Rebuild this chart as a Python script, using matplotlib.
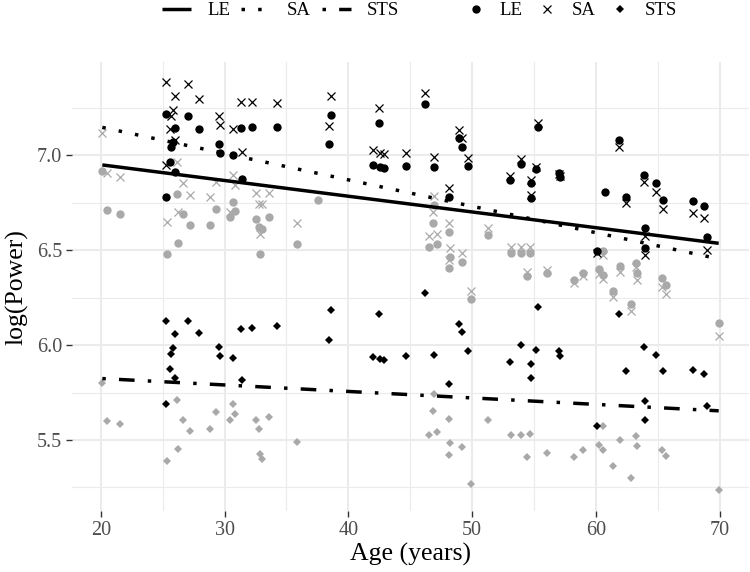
import numpy as np
import matplotlib
matplotlib.use("Agg")
import matplotlib.pyplot as plt
from matplotlib.lines import Line2D

plt.rcParams['font.family'] = ['Liberation Serif', 'DejaVu Serif']

# group drawn in black: age, LE, SA, STS (log power)
age_black = [25.27, 25.27, 25.62, 25.70, 25.84, 26.00, 26.00, 27.03, 27.92, 29.53,
             29.66, 30.69, 31.34, 31.39, 32.22, 34.24, 38.42, 38.64, 42.02, 42.50,
             42.60, 42.90, 44.68, 46.18, 46.96, 48.12, 48.93, 49.18, 49.67, 53.10,
             53.93, 54.73, 54.76, 55.14, 55.35, 57.00, 57.13, 60.06, 60.76, 61.89,
             62.46, 63.91, 63.94, 63.94, 64.82, 65.40, 67.82, 68.73, 68.95]
le_black = [7.217, 6.782, 6.964, 7.043, 7.073, 7.146, 6.915, 7.210, 7.141, 7.062,
            7.013, 7.001, 7.146, 6.878, 7.152, 7.152, 7.061, 7.213, 6.950, 7.173,
            6.938, 6.933, 6.947, 7.271, 6.941, 6.783, 7.094, 7.046, 6.947, 6.869,
            6.957, 6.853, 6.778, 6.931, 7.152, 6.910, 6.888, 6.494, 6.806, 7.082,
            6.780, 6.899, 6.617, 6.512, 6.853, 6.764, 6.759, 6.734, 6.569]
sa_black = [7.389, 6.950, 7.138, 7.208, 7.239, 7.313, 7.082, 7.375, 7.296, 7.208,
            7.161, 7.138, 7.283, 7.020, 7.283, 7.275, 7.157, 7.313, 7.029, 7.250,
            7.015, 7.008, 7.011, 7.331, 6.990, 6.827, 7.134, 7.090, 6.985, 6.891,
            6.980, 6.871, 6.792, 6.941, 7.169, 6.900, 6.890, 6.485, np.nan, 7.046,
            6.752, 6.859, 6.573, 6.476, 6.810, 6.717, 6.699, 6.669, 6.503]
sts_black = [6.129, 5.688, 5.875, 5.954, 5.983, 6.061, 5.827, 6.129, 6.064, 5.990,
             5.941, 5.934, 6.085, 5.818, 6.090, 6.101, 6.029, 6.187, 5.936, 6.162,
             5.927, 5.924, 5.945, 6.276, 5.946, 5.797, 6.112, 6.067, 5.969, 5.909,
             5.999, 5.899, 5.827, 5.976, 6.201, 5.967, 5.945, 5.575, np.nan, 6.164,
             5.866, 5.988, 5.704, 5.603, 5.948, 5.862, 5.869, 5.848, 5.682]

# group drawn in grey
age_grey = [20.13, 20.48, 21.56, 25.36, 26.19, 26.24, 26.66, 27.21, 28.80, 29.35,
            30.69, 30.88, 30.48, 32.55, 32.79, 32.90, 33.03, 33.62, 35.83, 37.53,
            46.55, 46.81, 46.92, 47.14, 48.10, 48.24, 48.16, 49.18, 49.93, 51.26,
            53.14, 53.93, 54.68, 54.44, 56.05, 58.23, 58.93, 60.22, 60.57, 60.57,
            61.36, 61.95, 62.81, 63.24, 63.29, 65.36, 65.63, 69.92]
le_grey = [6.918, 6.712, 6.694, 6.480, 6.799, 6.541, 6.692, 6.634, 6.631, 6.717,
           6.757, 6.708, 6.678, 6.666, 6.622, 6.480, 6.610, 6.675, 6.533, 6.766,
           6.517, 6.646, 6.739, 6.534, 6.599, 6.467, 6.406, 6.441, 6.243, 6.582,
           6.485, 6.485, 6.485, 6.366, 6.380, 6.345, 6.383, 6.403, 6.494, 6.371,
           6.283, 6.418, 6.218, 6.433, 6.383, 6.354, 6.315, 6.117]
sa_grey = [7.117, 6.906, 6.885, 6.648, 6.968, 6.704, 6.854, 6.792, 6.783, 6.862,
           6.897, 6.845, 6.700, 6.801, 6.745, 6.587, 6.745, 6.801, 6.646, np.nan,
           6.573, 6.700, 6.788, 6.585, 6.646, 6.512, 6.450, 6.485, 6.283, 6.617,
           6.515, 6.515, 6.515, 6.388, 6.397, 6.327, 6.366, 6.376, 6.476, 6.348,
           6.254, 6.388, 6.178, 6.410, 6.345, 6.306, 6.270, 6.046]
sts_grey = [5.801, 5.599, 5.585, 5.388, 5.713, 5.454, 5.606, 5.548, 5.557, 5.646,
            5.690, 5.638, 5.608, 5.608, 5.560, 5.427, 5.401, 5.622, 5.492, np.nan,
            5.525, 5.655, 5.743, 5.543, 5.613, 5.483, 5.422, 5.462, 5.266, 5.608,
            5.525, 5.529, 5.533, 5.409, 5.430, 5.409, 5.448, 5.476, 5.573, 5.448,
            5.362, 5.499, 5.301, 5.520, 5.471, 5.450, 5.415, 5.234]

# fitted lines (end points)
fit_age = [20.13, 69.92]
fit_le = [6.950, 6.537]
fit_sa = [7.148, 6.455]
fit_sts = [5.824, 5.654]

GREY = '#a9a9a9'
GRID = '#ebebeb'
TXT = '#4d4d4d'
LW = 2.5
SA_DASH = (0, (1.0, 3.8))
STS_DASH = (0, (1.0, 3.8, 4.5, 3.8))

fig = plt.figure(figsize=(7.5, 5.72), dpi=100)
ax = fig.add_axes([0.096, 0.106, 0.9027, 0.7854])

for col, age, le, sa, sts in [(GREY, age_grey, le_grey, sa_grey, sts_grey),
                              ('black', age_black, le_black, sa_black, sts_black)]:
    ax.plot(age, sa, linestyle='none', marker='x', ms=6.0, mew=0.9, color=col, zorder=3)
    ax.plot(age, le, linestyle='none', marker='o', ms=6.0, mew=0, color=col, zorder=4)
    ax.plot(age, sts, linestyle='none', marker='D', ms=3.7, mew=0, color=col, zorder=4)

ax.plot(fit_age, fit_le, color='black', lw=LW, solid_capstyle='butt', zorder=5)
ax.plot(fit_age, fit_sa, color='black', lw=LW, linestyle=SA_DASH, dash_capstyle='butt', zorder=5)
ax.plot(fit_age, fit_sts, color='black', lw=LW, linestyle=STS_DASH, dash_capstyle='butt', zorder=5)

ax.set_xlim(17.68, 72.37)
ax.set_ylim(5.124, 7.492)
ax.set_xticks([20, 30, 40, 50, 60, 70])
ax.set_xticks([25, 35, 45, 55, 65], minor=True)
ax.set_yticks([5.5, 6.0, 6.5, 7.0])
ax.set_yticks([5.25, 5.75, 6.25, 6.75, 7.25], minor=True)
ax.set_yticklabels(['5.5', '6.0', '6.5', '7.0'])
ax.grid(True, which='major', color=GRID, lw=1.5)
ax.grid(True, which='minor', color=GRID, lw=0.8)
ax.set_axisbelow(True)
for s in ax.spines.values():
    s.set_visible(False)
ax.tick_params(which='major', length=4, width=1.0, color='#333333',
               labelsize=14.5, labelcolor=TXT, pad=3)
ax.tick_params(which='minor', length=0)
ax.set_xlabel('Age (years)', fontsize=18.5, labelpad=2)
ax.set_ylabel('log(Power)', fontsize=18.5, labelpad=6)

line_handles = [Line2D([], [], color='black', lw=LW, solid_capstyle='butt'),
                Line2D([], [], color='black', lw=LW, linestyle=SA_DASH, dash_capstyle='butt'),
                Line2D([], [], color='black', lw=LW, linestyle=STS_DASH, dash_capstyle='butt')]
pt_handles = [Line2D([], [], linestyle='none', marker='o', ms=6.0, mew=0, color='black'),
              Line2D([], [], linestyle='none', marker='x', ms=6.0, mew=0.9, color='black'),
              Line2D([], [], linestyle='none', marker='D', ms=3.7, mew=0, color='black')]
labels = ['LE', 'SA', 'STS']

leg_kw = dict(ncol=3, frameon=False, fontsize=13.5, loc='center', borderpad=0,
              borderaxespad=0)
fig.legend(line_handles, labels, bbox_to_anchor=(0.374, 0.981),
           handlelength=1.55, handletextpad=0.85, columnspacing=0.6, **leg_kw)
fig.legend(pt_handles, labels, bbox_to_anchor=(0.763, 0.981),
           handlelength=0.8, handletextpad=0.9, columnspacing=0.9, **leg_kw)

fig.savefig('out.png', dpi=100, facecolor='white')
